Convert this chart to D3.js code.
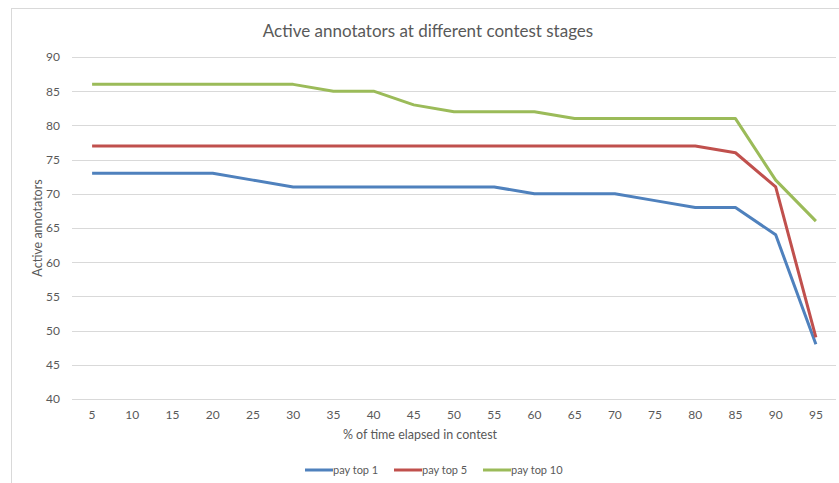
<!DOCTYPE html>
<html><head><meta charset="utf-8">
<script src="https://cdn.jsdelivr.net/npm/d3@7"></script>
<style>body{margin:0;background:#fff;overflow:hidden}svg{display:block}text{font-family:Lato,"Open Sans",sans-serif;fill:#595959}</style>
</head><body>
<script>
const categories = [5,10,15,20,25,30,35,40,45,50,55,60,65,70,75,80,85,90,95];
const payTop1 = [73,73,73,73,72,71,71,71,71,71,71,70,70,70,69,68,68,64,48];
const payTop5 = [77,77,77,77,77,77,77,77,77,77,77,77,77,77,77,77,76,71,49];
const payTop10 = [86,86,86,86,86,86,85,85,83,82,82,82,81,81,81,81,81,72,66];
const seriesNames = ["pay top 1","pay top 5","pay top 10"];
const yTicks = [40,45,50,55,60,65,70,75,80,85,90];
const colors = ["#4F81BD","#C0504D","#9BBB59"];

const W = 839, H = 483;
const svg = d3.select("body").append("svg").attr("width", W).attr("height", H);
svg.append("rect").attr("x",11.5).attr("y",8.5).attr("width",W+20).attr("height",H+20)
  .attr("fill","none").attr("stroke","#D9D9D9");

const pL = 72, pR = 836, pT = 57, pB = 399;
const x = d3.scaleBand().domain(categories).range([pL, pR]);
const y = d3.scaleLinear().domain([40, 90]).range([pB, pT]);

// gridlines
svg.append("g").selectAll("line").data(yTicks).join("line")
  .attr("x1", pL).attr("x2", pR)
  .attr("y1", d => Math.round(y(d)) + 0.5).attr("y2", d => Math.round(y(d)) + 0.5)
  .attr("stroke", "#D9D9D9").attr("stroke-width", 1);

// y axis labels
const yAxis = svg.append("g").attr("transform", `translate(${pL},0)`)
  .call(d3.axisLeft(y).tickValues(yTicks).tickSize(0).tickPadding(12));
yAxis.select(".domain").remove();
yAxis.selectAll("text").style("font-size","12px").style("fill","#595959").style("font-family","Lato");

// x axis labels
const xAxis = svg.append("g").attr("transform", `translate(0,${pB})`)
  .call(d3.axisBottom(x).tickSize(0).tickPadding(11));
xAxis.select(".domain").remove();
xAxis.selectAll("text").style("font-size","12px").style("fill","#595959").style("font-family","Lato");

// titles
svg.append("text").attr("x", 428).attr("y", 37).attr("text-anchor","middle")
  .style("font-size","17px").text("Active annotators at different contest stages");
svg.append("text").attr("x", 420).attr("y", 439).attr("text-anchor","middle")
  .style("font-size","12.5px").text("% of time elapsed in contest");
svg.append("text").attr("transform","translate(42,228) rotate(-90)").attr("text-anchor","middle")
  .style("font-size","12.5px").text("Active annotators");

// lines
const allSeries = [payTop1, payTop5, payTop10];
const line = d3.line().x((d,i) => x(categories[i]) + x.bandwidth()/2).y(d => y(d));
svg.append("g").selectAll("path").data(allSeries).join("path")
  .attr("d", line).attr("fill","none")
  .attr("stroke", (d,i) => colors[i]).attr("stroke-width", 3)
  .attr("stroke-linejoin","round").attr("stroke-linecap","butt");

// legend
const legX = [305, 394, 483];
const leg = svg.append("g").selectAll("g").data(seriesNames).join("g")
  .attr("transform", (d,i) => `translate(${legX[i]},470)`);
leg.append("line").attr("x1",0).attr("x2",28).attr("y1",0).attr("y2",0)
  .attr("stroke",(d,i)=>colors[i]).attr("stroke-width",3);
leg.append("text").attr("x",28).attr("y",4).style("font-size","11px").text(d=>d);
</script>
</body></html>
